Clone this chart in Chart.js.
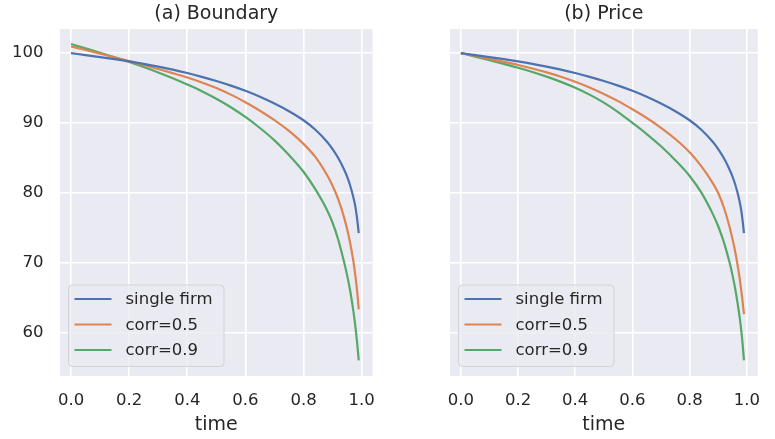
<!DOCTYPE html>
<html>
<head>
<meta charset="utf-8">
<script src="https://cdn.jsdelivr.net/npm/chart.js@4"></script>
<style>
  body { margin: 0; background: #ffffff; }
  #wrap { position: relative; width: 775px; height: 439px; }
  canvas { position: absolute; top: 0; }
</style>
</head>
<body>
<div id="wrap">
  <canvas id="boundaryChart" width="390" height="439" style="left:0"></canvas>
  <canvas id="priceChart" width="385" height="439" style="left:390px"></canvas>
</div>
<script>
// values
const timeGrid = [0, 0.05, 0.1, 0.15, 0.2, 0.25, 0.3, 0.35, 0.4, 0.45, 0.5, 0.55, 0.6, 0.65, 0.7, 0.75,
                  0.8, 0.84, 0.88, 0.9, 0.92, 0.94, 0.95, 0.96, 0.97, 0.975, 0.98, 0.985, 0.99];

const boundarySingle = [100, 99.72, 99.43, 99.13, 98.81, 98.46, 98.07, 97.63, 97.14, 96.6, 96.0, 95.34, 94.6, 93.75, 92.78, 91.68,
                        90.38, 89.06, 87.34, 86.26, 84.94, 83.3, 82.3, 81.1, 79.6, 78.7, 77.6, 76.1, 74.2];
const boundaryCorr05 = [100.95, 100.45, 99.93, 99.4, 98.85, 98.3, 97.73, 97.13, 96.5, 95.8, 95.0, 94.05, 92.95, 91.75, 90.4, 88.85,
                        87.0, 85.16, 82.6, 81.0, 79.0, 76.4, 74.8, 72.9, 70.6, 69.2, 67.6, 65.7, 63.3];
const boundaryCorr09 = [101.3, 100.68, 100.05, 99.4, 98.72, 98.0, 97.23, 96.4, 95.5, 94.55, 93.47, 92.25, 90.85, 89.27, 87.5, 85.4,
                        83.0, 80.55, 77.6, 75.7, 73.2, 70.0, 68.2, 66.1, 63.5, 62.0, 60.3, 58.3, 56.0];

const priceSingle = [100, 99.72, 99.43, 99.13, 98.81, 98.46, 98.07, 97.63, 97.14, 96.6, 96.0, 95.34, 94.6, 93.75, 92.78, 91.68,
                     90.38, 89.06, 87.34, 86.26, 84.94, 83.3, 82.3, 81.1, 79.6, 78.7, 77.6, 76.1, 74.2];
const priceCorr05 = [100, 99.59, 99.17, 98.74, 98.3, 97.8, 97.24, 96.61, 95.89, 95.07, 94.15, 93.12, 91.95, 90.7, 89.3, 87.7,
                     85.8, 83.85, 81.45, 79.95, 77.85, 75.05, 73.35, 71.45, 69.1, 67.75, 66.2, 64.5, 62.6];
const priceCorr09 = [100, 99.5, 98.98, 98.45, 97.9, 97.3, 96.63, 95.88, 95.03, 94.05, 92.9, 91.55, 90.0, 88.4, 86.65, 84.65,
                     82.4, 80.08, 77.04, 75.2, 72.88, 69.96, 68.2, 66.1, 63.6, 62.15, 60.5, 58.5, 56.0];

const seriesNames = ['single firm', 'corr=0.5', 'corr=0.9'];
const seriesColors = ['#4c72b0', '#dd8452', '#55a868'];

const xTicks = [0, 0.2, 0.4, 0.6, 0.8, 1.0];
const yTicks = [60, 70, 80, 90, 100];

const FONT = 'DejaVu Sans';

function points(ys) {
    return ys.map((y, i) => ({ x: timeGrid[i], y: y }));
}

// grey panel behind the lines, seaborn darkgrid look
const panelBg = {
    id: 'panelBg',
    beforeDraw(chart) {
        const a = chart.chartArea, c = chart.ctx;
        c.save();
        c.fillStyle = '#eaeaf2';
        c.fillRect(a.left, a.top, a.right - a.left, a.bottom - a.top);
        c.restore();
    }
};

// title centred over the plot area, legend box in lower left
const panelText = {
    id: 'panelText',
    afterDraw(chart, args, opts) {
        const a = chart.chartArea, c = chart.ctx;
        c.save();
        c.fillStyle = '#262626';
        c.font = '19px "' + FONT + '"';
        c.textAlign = 'center';
        c.textBaseline = 'middle';
        c.fillText(opts.title, (a.left + a.right) / 2, 14);

        const bx = a.left + 8.5, by = a.bottom - 91, bw = 155.5, bh = 81.5;
        c.beginPath();
        c.roundRect(bx, by, bw, bh, 4);
        c.fillStyle = 'rgba(234,234,242,0.8)';
        c.fill();
        c.strokeStyle = '#d2d2d8';
        c.lineWidth = 1;
        c.stroke();

        c.font = '16.5px "' + FONT + '"';
        c.textAlign = 'left';
        chart.data.datasets.forEach((ds, i) => {
            const ry = by + 14 + i * 25.5;
            c.strokeStyle = ds.borderColor;
            c.lineWidth = 2.2;
            c.beginPath();
            c.moveTo(bx + 6, ry);
            c.lineTo(bx + 43, ry);
            c.stroke();
            c.fillStyle = '#262626';
            c.fillText(ds.label, bx + 57, ry + 1);
        });
        c.restore();
    }
};

function makeChart(id, title, series, showY, padRight) {
    const ctx = document.getElementById(id).getContext('2d');
    return new Chart(ctx, {
        type: 'line',
        data: {
            datasets: series.map((s, i) => ({
                label: seriesNames[i],
                data: points(s),
                borderColor: seriesColors[i],
                backgroundColor: seriesColors[i],
                borderWidth: 2.2,
                pointRadius: 0,
                cubicInterpolationMode: 'monotone',
                fill: false
            }))
        },
        options: {
            responsive: false,
            animation: false,
            devicePixelRatio: 1,
            layout: { padding: { top: 29, right: padRight, bottom: 0, left: 0 } },
            plugins: {
                legend: { display: false },
                tooltip: { enabled: false },
                panelText: { title: title }
            },
            scales: {
                x: {
                    type: 'linear',
                    min: -0.038,
                    max: 1.038,
                    afterBuildTicks(scale) { scale.ticks = xTicks.map(v => ({ value: v })); },
                    afterFit(scale) { scale.height = 63; },
                    grid: { color: '#ffffff', lineWidth: 1.6, drawTicks: false },
                    border: { display: false },
                    ticks: {
                        padding: 15,
                        color: '#262626',
                        font: { family: FONT, size: 16.5 },
                        callback: v => v.toFixed(1)
                    },
                    title: {
                        display: true,
                        text: 'time',
                        color: '#262626',
                        font: { family: FONT, size: 19 },
                        padding: { top: 0, bottom: 3 }
                    }
                },
                y: {
                    min: 53.75,
                    max: 103.45,
                    afterBuildTicks(scale) { scale.ticks = yTicks.map(v => ({ value: v })); },
                    afterFit(scale) { scale.width = 60; },
                    grid: { color: '#ffffff', lineWidth: 1.6, drawTicks: false },
                    border: { display: false },
                    ticks: {
                        display: showY,
                        padding: 16.5,
                        color: '#262626',
                        font: { family: FONT, size: 16.5 }
                    }
                }
            }
        },
        plugins: [panelBg, panelText]
    });
}

makeChart('boundaryChart', '(a) Boundary', [boundarySingle, boundaryCorr05, boundaryCorr09], true, 7);
makeChart('priceChart', '(b) Price', [priceSingle, priceCorr05, priceCorr09], false, 2);
</script>
</body>
</html>
